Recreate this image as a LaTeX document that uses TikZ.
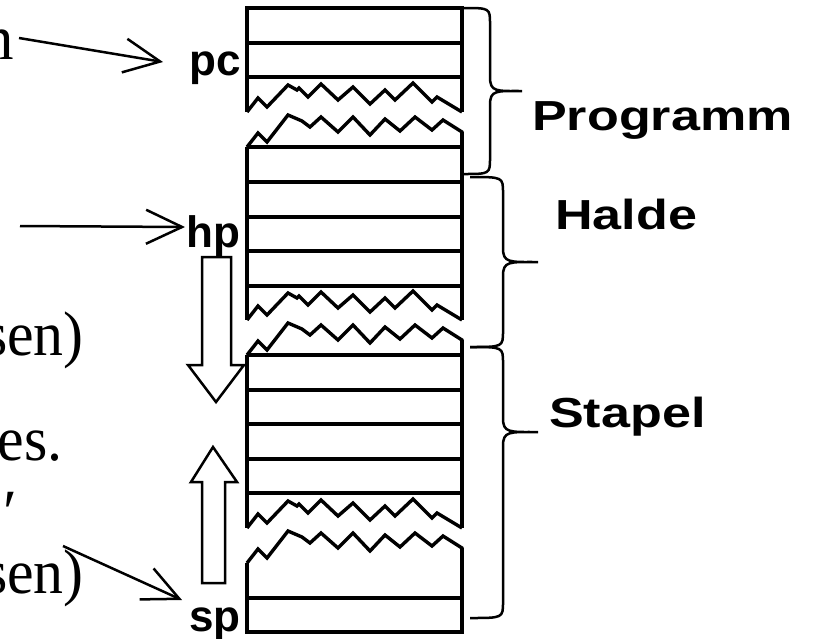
\documentclass[tikz,border=0pt]{standalone}
\usepackage{fontspec}
\setmainfont{Liberation Serif}
\newfontfamily\labfont{Liberation Sans}
\usetikzlibrary{arrows.meta}

% jagged tear at the bottom of a block (left corner at #1,#2)
\newcommand{\tearbottom}[2]{%
  \draw[cell] (#1,#2) -- ++(11,-14) -- ++(9,9) -- ++(21,-22) -- ++(9,5) -- ++(2,-2)
    -- ++(9,9) -- ++(13,-13) -- ++(17,16) -- ++(15,-13) -- ++(17,17) -- ++(15,-14)
    -- ++(10,10) -- ++(18,-17) -- ++(19,19) -- ++(5,-5) -- ++(25,15);}
% jagged tear on top of a block (left corner at #1,#2, right side down to #2)
\newcommand{\teartop}[2]{%
  \draw[cell] (#1,#2) -- ++(11,-14) -- ++(9,9) -- ++(21,-27) -- ++(14,6) -- ++(8,6)
    -- ++(11,-10) -- ++(17,15) -- ++(15,-15) -- ++(17,18) -- ++(15,-16) -- ++(15,12)
    -- ++(15,-14) -- ++(17,13) -- ++(11,-10) -- ++(19,12) -- ++(0,15);}
% curly brace: x end, top y, bottom y, stem x, tip x, tip y
\newcommand{\membrace}[6]{%
  \draw[brace] (#1,#2) .. controls (#4,#2) and (#4,#2) .. (#4,#2+16)
    -- (#4,#6-14) .. controls (#4,#6+1) and (#4+6,#6) .. (#5,#6)
    .. controls (#4+6,#6) and (#4,#6-1) .. (#4,#6+14)
    -- (#4,#3-16) .. controls (#4,#3) and (#4,#3) .. (#1,#3);}

\begin{document}
\begin{tikzpicture}[x=1pt,y=-1pt,
  cell/.style={line width=3.4pt,line join=miter},
  brace/.style={line width=2.5pt},
  ptr/.style={line width=2.5pt,-{Straight Barb[length=36pt,width=34pt,line width=2.5pt]}},
  block/.style={line width=2.5pt,fill=white,line join=miter},
  reg/.style={font=\labfont\bfseries\fontsize{44}{48}\selectfont,inner sep=0pt,anchor=base west},
  area/.style={font=\labfont\bfseries\fontsize{42}{48}\selectfont,inner sep=0pt,anchor=base west},
  prose/.style={font=\fontsize{63}{70}\selectfont,inner sep=0pt,anchor=base east}]
\useasboundingbox (0,0) rectangle (818,638);

% memory column: code block
\draw[cell] (247,112) -- (247,8) -- (462,8) -- (462,112);
\draw[cell] (247,43) -- (462,43);
\draw[cell] (247,77) -- (462,77);
\tearbottom{247}{112}
% heap block
\teartop{247}{147}
\draw[cell] (247,147) -- (247,320);
\draw[cell] (462,132) -- (462,320);
\foreach \y in {147,182,217,251,286} \draw[cell] (247,\y) -- (462,\y);
\tearbottom{247}{320}
% free / stack block
\teartop{247}{355}
\draw[cell] (247,355) -- (247,528);
\draw[cell] (462,340) -- (462,528);
\foreach \y in {355,390,424,459,493} \draw[cell] (247,\y) -- (462,\y);
\tearbottom{247}{528}
% stack top block
\teartop{247}{563}
\draw[cell] (247,563) -- (247,632) -- (462,632) -- (462,548);
\draw[cell] (247,598) -- (462,598);

% growth directions
\draw[block] (202,257) -- (231,257) -- (231,365) -- (244,365) -- (216,402)
  -- (188,365) -- (202,365) -- cycle;
\draw[block] (202,583) -- (225,583) -- (225,482) -- (237,482) -- (213,447)
  -- (191,482) -- (202,482) -- cycle;

% register labels
\node[reg] (pc) at (189,75) {pc};
\node[reg] (hp) at (186,247) {hp};
\node[reg] (sp) at (189,631) {sp};

% area braces and labels
\membrace{463}{8}{174}{490}{522}{91}
\membrace{470}{177}{347}{503}{538}{262}
\membrace{470}{347}{618}{503}{538}{432}
\node[area] (prog) at (532,130) {\scalebox{1.24}[1]{Programm}};
\node[area] (halde) at (555,229) {\scalebox{1.24}[1]{Halde}};
\node[area] (stapel) at (549,427) {\scalebox{1.24}[1]{Stapel}};

% text on the left edge
\node[prose] (t1) at (14,59) {n};
\node[prose] (t2) at (84,355) {\scalebox{0.95}[1]{sen)}};
\node[prose] (t3) at (63,460) {\scalebox{0.95}[1]{es.}};
\node[prose] (t4) at (17,533) {′};
\node[prose] (t5) at (84,593) {\scalebox{0.95}[1]{sen)}};

% pointers
\coordinate (a1s) at (19,38);  \coordinate (a1e) at (163,62);
\coordinate (a2s) at (20,226); \coordinate (a2e) at (185,227);
\coordinate (a3s) at (63,546); \coordinate (a3e) at (182,600);
\draw[ptr] (a1s) -- (a1e);
\draw[ptr] (a2s) -- (a2e);
\draw[ptr] (a3s) -- (a3e);
\end{tikzpicture}
\end{document}
